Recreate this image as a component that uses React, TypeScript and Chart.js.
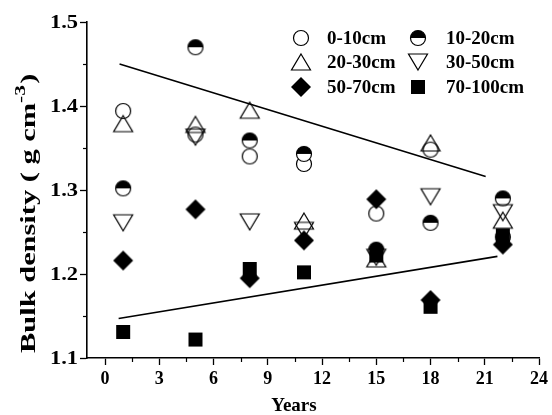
import React, { useEffect, useRef } from "react";
import { Chart, registerables } from "chart.js";

Chart.register(...registerables);

// Sampling years after conversion
const years = [1, 5, 8, 11, 15, 18, 22];

// Bulk density (g cm-3) per soil depth layer
const depth0to10 = [1.394, 1.366, 1.34, 1.331, 1.272, 1.348, 1.244];
const depth10to20 = [1.302, 1.47, 1.359, 1.343, 1.229, 1.261, 1.29];
const depth20to30 = [1.379, 1.378, 1.395, 1.263, 1.218, 1.356, 1.264];
const depth30to50 = [1.261, 1.363, 1.262, 1.252, 1.22, 1.292, 1.273];
const depth50to70 = [1.216, 1.277, 1.195, 1.24, 1.289, 1.169, 1.235];
const depth70to100 = [1.131, 1.122, 1.206, 1.202, 1.222, 1.161, 1.246];

// Envelope lines (start / end)
const upperLineX = [0.8, 21.05];
const upperLineY = [1.45, 1.316];
const lowerLineX = [0.75, 21.7];
const lowerLineY = [1.147, 1.221];

const xTickValues = [0, 3, 6, 9, 12, 15, 18, 21, 24];
const yTickValues = [1.1, 1.2, 1.3, 1.4, 1.5];

const layerLabels = ["0-10cm", "10-20cm", "20-30cm", "30-50cm", "50-70cm", "70-100cm"];
const layerMarkers = ["circle", "half", "triUp", "triDown", "diamond", "square"];

const SERIF = '"Liberation Serif", "Times New Roman", serif';

function makeMarker(kind: string): HTMLCanvasElement {
  const c = document.createElement("canvas");
  c.width = 24;
  c.height = 24;
  const ctx = c.getContext("2d")!;
  ctx.translate(12, 12);
  ctx.lineWidth = 1.2;
  ctx.strokeStyle = "#000";
  ctx.fillStyle = "#000";
  if (kind === "circle") {
    ctx.beginPath();
    ctx.arc(0, 0, 7.5, 0, Math.PI * 2);
    ctx.stroke();
  } else if (kind === "half") {
    ctx.beginPath();
    ctx.arc(0, 0, 7.5, 0, Math.PI * 2);
    ctx.fillStyle = "#fff";
    ctx.fill();
    ctx.beginPath();
    ctx.arc(0, 0, 7.5, Math.PI, Math.PI * 2);
    ctx.closePath();
    ctx.fillStyle = "#000";
    ctx.fill();
    ctx.beginPath();
    ctx.arc(0, 0, 7.5, 0, Math.PI * 2);
    ctx.stroke();
  } else if (kind === "triUp") {
    ctx.beginPath();
    ctx.moveTo(0, -8);
    ctx.lineTo(9.5, 8);
    ctx.lineTo(-9.5, 8);
    ctx.closePath();
    ctx.stroke();
  } else if (kind === "triDown") {
    ctx.beginPath();
    ctx.moveTo(0, 8);
    ctx.lineTo(9.5, -8);
    ctx.lineTo(-9.5, -8);
    ctx.closePath();
    ctx.stroke();
  } else if (kind === "diamond") {
    ctx.beginPath();
    ctx.moveTo(0, -10);
    ctx.lineTo(10, 0);
    ctx.lineTo(0, 10);
    ctx.lineTo(-10, 0);
    ctx.closePath();
    ctx.fill();
  } else if (kind === "square") {
    ctx.fillRect(-7, -7, 14, 14);
  }
  return c;
}

export default function App() {
  const canvasRef = useRef<HTMLCanvasElement | null>(null);

  useEffect(() => {
    const canvas = canvasRef.current;
    if (!canvas) return;
    const markers = layerMarkers.map(makeMarker);
    const layerValues = [depth0to10, depth10to20, depth20to30, depth30to50, depth50to70, depth70to100];

    const scatterSets = layerLabels.map((label, i) => ({
      type: "scatter" as const,
      label,
      data: years.map((x, j) => ({ x, y: layerValues[i][j] })),
      pointStyle: markers[i],
      pointRadius: 8,
      pointHoverRadius: 8,
      order: layerLabels.length - i,
    }));

    const lineSet = (xs: number[], ys: number[], label: string) => ({
      type: "line" as const,
      label,
      data: xs.map((x, j) => ({ x, y: ys[j] })),
      borderColor: "#000",
      borderWidth: 1.6,
      pointRadius: 0,
      fill: false,
      order: 0,
    });

    const minorTicks = {
      id: "minorTicks",
      afterDraw(chart: any) {
        const { ctx, scales } = chart;
        const xs = scales.x;
        const ys = scales.y;
        ctx.save();
        ctx.strokeStyle = "#000";
        ctx.lineWidth = 1.2;
        for (let v = 1.5; v < 24; v += 3) {
          const px = Math.round(xs.getPixelForValue(v)) + 0.5;
          ctx.beginPath();
          ctx.moveTo(px, ys.bottom);
          ctx.lineTo(px, ys.bottom + 4);
          ctx.stroke();
        }
        for (let v = 1.15; v < 1.5; v += 0.1) {
          const py = Math.round(ys.getPixelForValue(v)) + 0.5;
          ctx.beginPath();
          ctx.moveTo(xs.left, py);
          ctx.lineTo(xs.left - 4, py);
          ctx.stroke();
        }
        ctx.restore();
      },
    };

    const titlesAndLegend = {
      id: "titlesAndLegend",
      afterDraw(chart: any) {
        const { ctx, scales } = chart;
        ctx.save();
        ctx.fillStyle = "#000";

        // y tick labels (wide bold serif)
        ctx.font = `bold 18px ${SERIF}`;
        ctx.textAlign = "right";
        ctx.textBaseline = "middle";
        yTickValues.forEach((v) => {
          const py = scales.y.getPixelForValue(v);
          ctx.save();
          ctx.translate(78, py + 1);
          ctx.scale(1.25, 1);
          ctx.fillText(v.toFixed(1), 0, 0);
          ctx.restore();
        });

        // x title
        ctx.font = `bold 19px ${SERIF}`;
        ctx.textAlign = "center";
        ctx.textBaseline = "alphabetic";
        ctx.fillText("Years", 294, 411);

        // y title with superscript, stretched along its length
        ctx.save();
        ctx.translate(28, 214);
        ctx.rotate(-Math.PI / 2);
        ctx.scale(1.52, 1);
        const mainFont = `bold 20px ${SERIF}`;
        const supFont = `bold 14px ${SERIF}`;
        const part1 = "Bulk density ( g cm";
        const sup = "-3";
        const part2 = ")";
        ctx.font = mainFont;
        const w1 = ctx.measureText(part1).width;
        const w3 = ctx.measureText(part2).width;
        ctx.font = supFont;
        const w2 = ctx.measureText(sup).width;
        const x0 = -(w1 + w2 + w3) / 2;
        ctx.textAlign = "left";
        ctx.font = mainFont;
        ctx.fillText(part1, x0, 7);
        ctx.font = supFont;
        ctx.fillText(sup, x0 + w1, -3);
        ctx.font = mainFont;
        ctx.fillText(part2, x0 + w1 + w2 + 1, 7);
        ctx.restore();

        // legend: two columns, three rows
        const colSym = [301, 418];
        const colText = [327, 446];
        const rows = [38, 62, 87];
        ctx.font = `bold 19px ${SERIF}`;
        ctx.textAlign = "left";
        ctx.textBaseline = "middle";
        layerLabels.forEach((label, i) => {
          const col = i % 2;
          const row = Math.floor(i / 2);
          const m = markers[i];
          ctx.drawImage(m, colSym[col] - m.width / 2, rows[row] - m.height / 2);
          ctx.fillText(label, colText[col], rows[row] + 1);
        });
        ctx.restore();
      },
    };

    const chart = new Chart(canvas, {
      type: "scatter",
      data: {
        datasets: [
          ...scatterSets,
          lineSet(upperLineX, upperLineY, "upper"),
          lineSet(lowerLineX, lowerLineY, "lower"),
        ] as any,
      },
      options: {
        animation: false,
        responsive: false,
        devicePixelRatio: 1,
        layout: { padding: { top: 22, right: 10, left: 0, bottom: 0 } },
        plugins: {
          legend: { display: false },
          tooltip: { enabled: false },
        },
        scales: {
          x: {
            type: "linear",
            min: -1,
            max: 24,
            afterBuildTicks: (s: any) => {
              s.ticks = xTickValues.map((value) => ({ value }));
            },
            afterFit: (s: any) => {
              s.height = 57;
            },
            ticks: {
              color: "#000",
              font: { family: SERIF, size: 18, weight: "bold" },
              padding: 4,
              maxRotation: 0,
              autoSkip: false,
            },
            grid: {
              display: true,
              drawOnChartArea: false,
              drawTicks: true,
              tickLength: 7,
              tickColor: "#000",
              tickWidth: 1.3,
              color: "#000",
            },
            border: { display: true, color: "#000", width: 1.6 },
          },
          y: {
            type: "linear",
            min: 1.1,
            max: 1.5,
            afterBuildTicks: (s: any) => {
              s.ticks = yTickValues.map((value) => ({ value }));
            },
            afterFit: (s: any) => {
              s.width = 87;
            },
            ticks: {
              display: false,
            },
            grid: {
              display: true,
              drawOnChartArea: false,
              drawTicks: true,
              tickLength: 7,
              tickColor: "#000",
              tickWidth: 1.3,
              color: "#000",
            },
            border: { display: true, color: "#000", width: 1.6 },
          },
        },
      },
      plugins: [minorTicks, titlesAndLegend],
    });

    return () => chart.destroy();
  }, []);

  return (
    <div style={{ position: "fixed", left: 0, top: 0, width: 552, height: 415, background: "#fff" }}>
      <canvas ref={canvasRef} width={552} height={415} style={{ display: "block" }} />
    </div>
  );
}
